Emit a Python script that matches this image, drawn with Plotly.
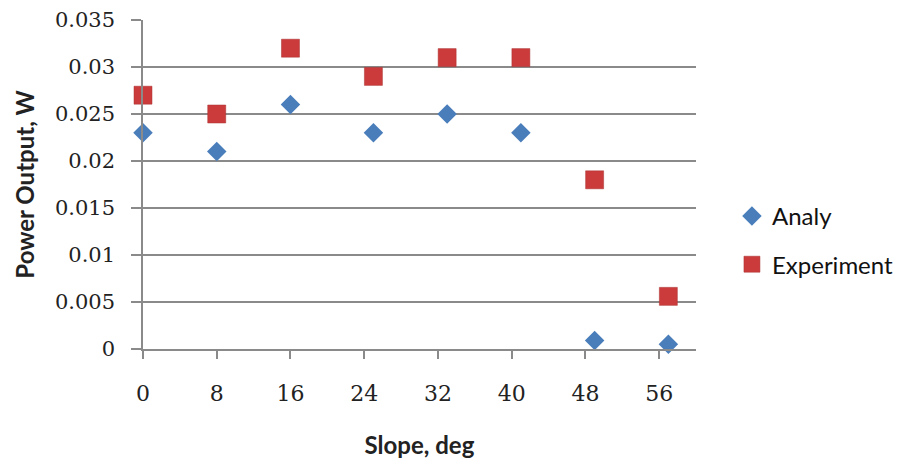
import plotly.graph_objects as go

slope_analy = [0, 8, 16, 25, 33, 41, 49, 57]
power_analy = [0.023, 0.021, 0.026, 0.023, 0.025, 0.023, 0.0009, 0.0005]
slope_exp = [0, 8, 16, 25, 33, 41, 49, 57]
power_exp = [0.027, 0.025, 0.032, 0.029, 0.031, 0.031, 0.018, 0.0056]
x_ticks = [0, 8, 16, 24, 32, 40, 48, 56]
y_ticks = [0, 0.005, 0.01, 0.015, 0.02, 0.025, 0.03, 0.035]
y_tick_text = ["0", "0.005", "0.01", "0.015", "0.02", "0.025", "0.03", "0.035"]

fig = go.Figure()
fig.add_trace(go.Scatter(
    x=slope_analy, y=power_analy, mode="markers", name="Analy",
    legendgroup="a", cliponaxis=False,
    marker=dict(symbol="diamond", size=15, color="#4A7EBB",
                line=dict(width=0)),
))
fig.add_trace(go.Scatter(
    x=slope_exp, y=power_exp, mode="markers", name="Experiment",
    legendgroup="b", cliponaxis=False,
    marker=dict(symbol="square", size=18, color="#CC3B3B",
                line=dict(width=0.5, color="#A83030")),
))

axis_color = "#8A8A8A"
fig.update_layout(
    width=899, height=461,
    margin=dict(l=143, r=203, t=20, b=112, autoexpand=False),
    paper_bgcolor="white", plot_bgcolor="white",
    font=dict(family="DejaVu Serif", size=21, color="#222222"),
    showlegend=True,
    legend=dict(
        x=1.065, y=0.33, xanchor="left", yanchor="middle",
        font=dict(family="Lato", size=24, color="#111111"),
        tracegroupgap=14, traceorder="grouped",
        itemwidth=30, borderwidth=0,
    ),
    xaxis=dict(
        range=[0, 60], tickvals=x_ticks, ticktext=[str(v) for v in x_ticks],
        showgrid=False, zeroline=False,
        showline=True, linecolor=axis_color, linewidth=1.5,
        ticks="outside", ticklen=8, tickcolor=axis_color, tickwidth=1.5,
        ticklabelstandoff=16,
        tickfont=dict(family="DejaVu Serif", size=22),
        title=dict(text="<b>Slope, deg</b>", standoff=32,
                   font=dict(family="Lato", size=24, color="#222222")),
    ),
    yaxis=dict(
        range=[0, 0.035], tickvals=y_ticks, ticktext=y_tick_text,
        showgrid=True, gridcolor=axis_color, gridwidth=1.5,
        zeroline=False,
        showline=True, linecolor=axis_color, linewidth=1.5,
        ticks="outside", ticklen=10, tickcolor=axis_color, tickwidth=1.5,
        ticklabelstandoff=12,
        tickfont=dict(family="DejaVu Serif", size=21),
        title=dict(text="<b>Power Output, W</b>", standoff=14,
                   font=dict(family="Lato", size=24, color="#222222")),
    ),
)

fig.write_html("out.html")
